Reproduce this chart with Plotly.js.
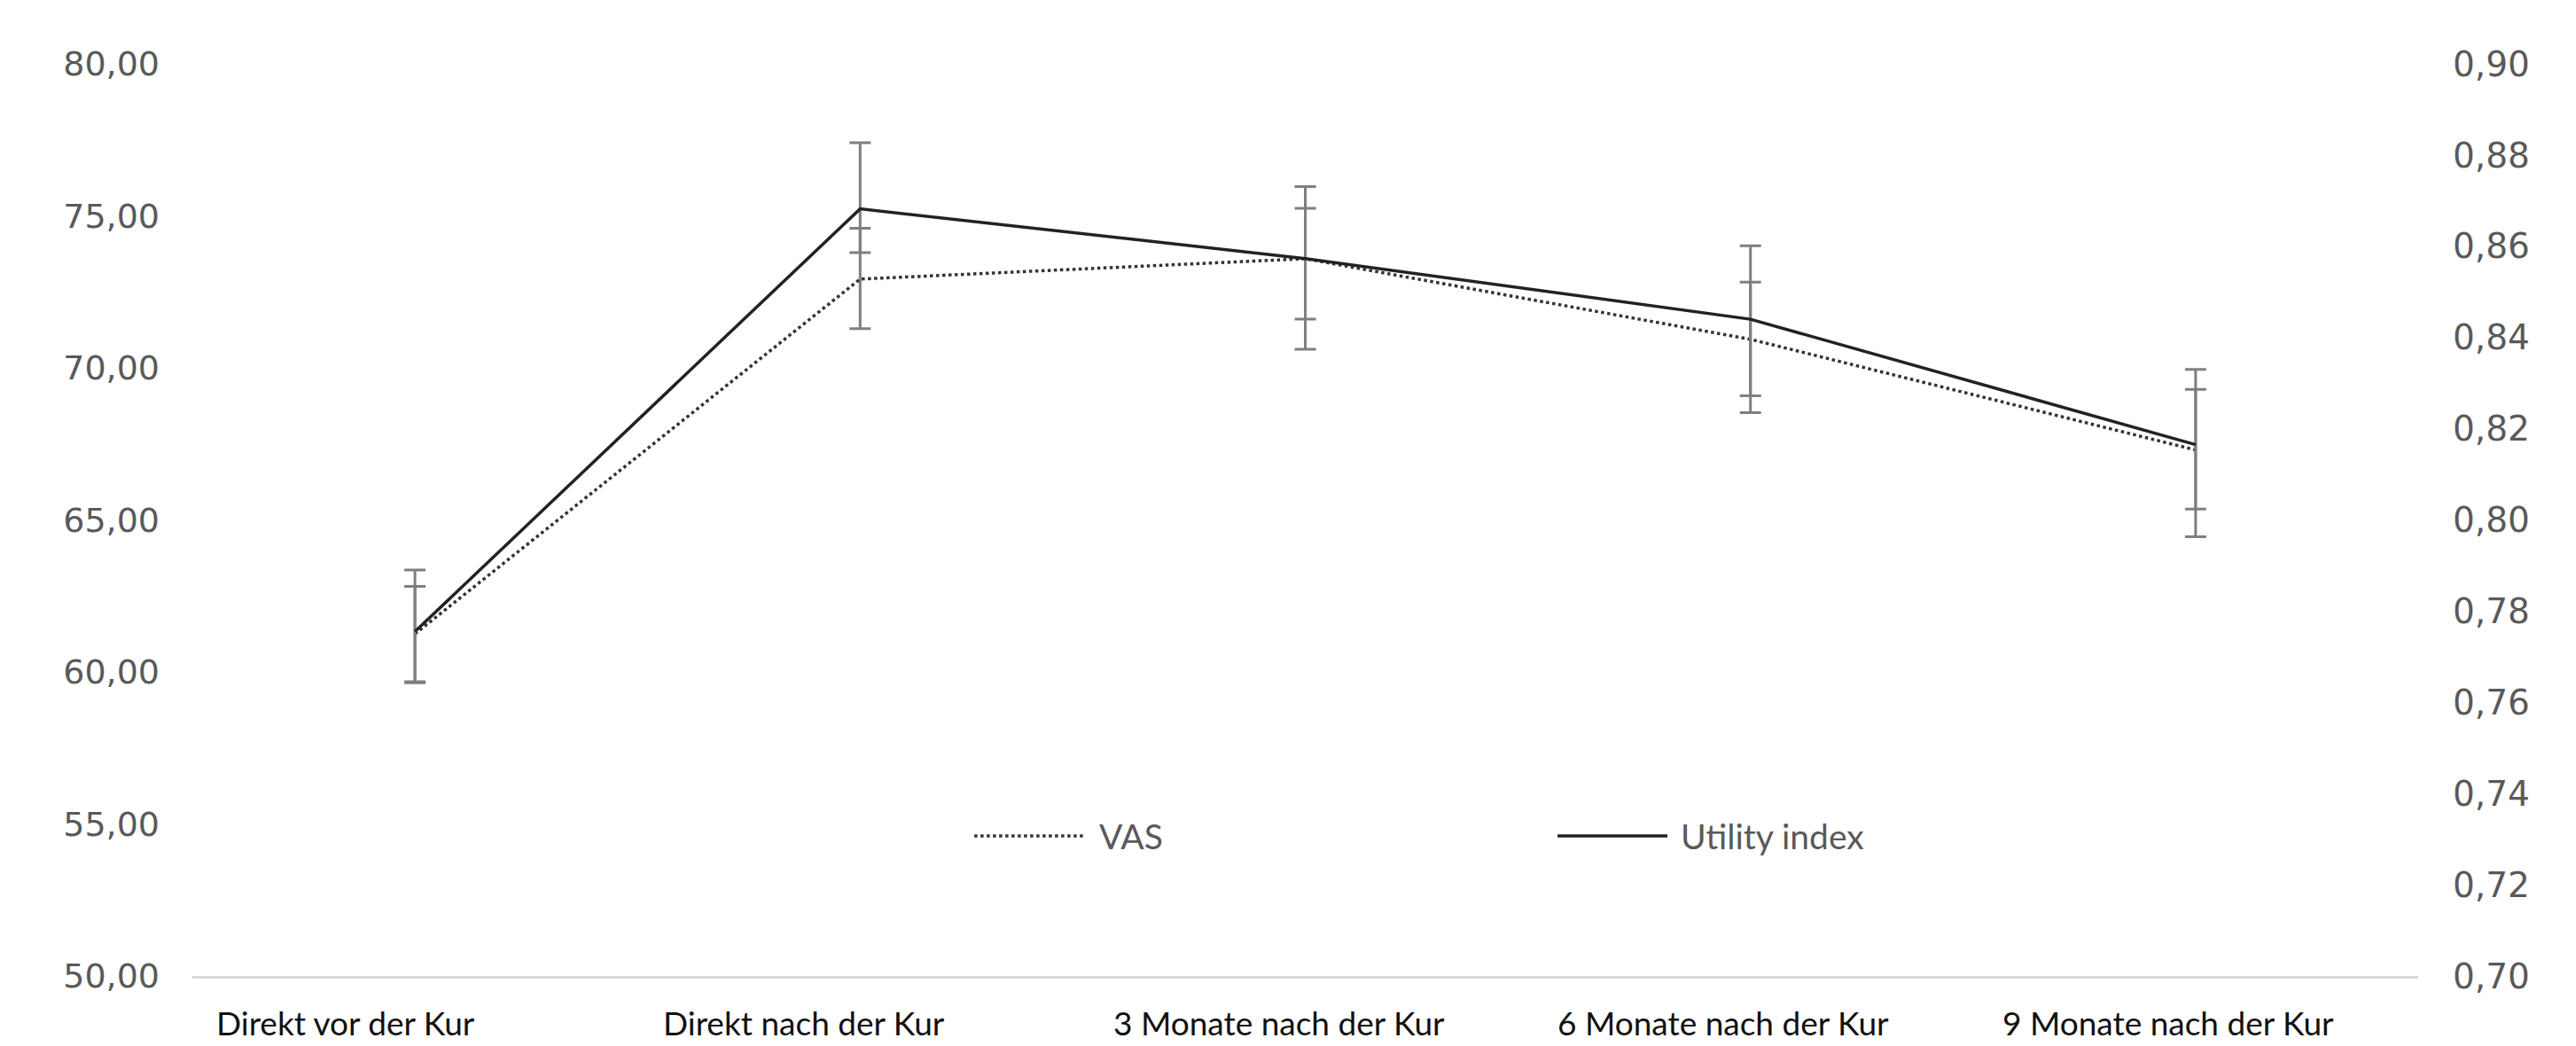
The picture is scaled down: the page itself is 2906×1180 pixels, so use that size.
<!DOCTYPE html>
<html>
<head>
<meta charset="utf-8">
<script src="https://cdn.plot.ly/plotly-3.0.1.min.js"></script>
<style>html,body{margin:0;padding:0;background:#fff;}#chart{width:2906px;height:1180px;}</style>
</head>
<body>
<div id="chart"></div>
<script>
const categories = ["Direkt vor der Kur", "Direkt nach der Kur", "3 Monate nach der Kur", "6 Monate nach der Kur", "9 Monate nach der Kur"];
const vasValues = [61.25, 72.92, 73.59, 70.94, 67.30];
const vasErrPlus = [1.56, 1.67, 1.66, 1.88, 1.99];
const vasErrMinus = [1.57, 1.63, 1.99, 1.86, 1.94];
const utilityValues = [0.7755, 0.8682, 0.8573, 0.8440, 0.8165];
const utilityErrPlus = [0.0135, 0.0145, 0.0158, 0.0161, 0.0165];
const utilityErrMinus = [0.0112, 0.0096, 0.0199, 0.0205, 0.0202];
const leftTicks = [50, 55, 60, 65, 70, 75, 80];
const rightTicks = [0.70, 0.72, 0.74, 0.76, 0.78, 0.80, 0.82, 0.84, 0.86, 0.88, 0.90];
const seriesNames = ['VAS', 'Utility index'];
const labelShifts = [-78, -63, -30, -31, -31];

const fmt = (v, d) => v.toFixed(d).replace('.', ',');

const traces = [
  {
    x: categories, y: vasValues, name: seriesNames[0], type: 'scatter', mode: 'lines', yaxis: 'y',
    line: {color: '#333333', width: 3.5, dash: 'dot'},
    error_y: {type: 'data', symmetric: false, array: vasErrPlus, arrayminus: vasErrMinus, color: '#7f7f7f', thickness: 3, width: 12},
    showlegend: false
  },
  {
    x: categories, y: utilityValues, name: seriesNames[1], type: 'scatter', mode: 'lines', yaxis: 'y2',
    line: {color: '#222222', width: 3.5},
    error_y: {type: 'data', symmetric: false, array: utilityErrPlus, arrayminus: utilityErrMinus, color: '#7f7f7f', thickness: 3, width: 12},
    showlegend: false
  }
];

const annotations = categories.map((c, i) => ({
  x: c, xref: 'x', y: 0, yref: 'paper', yshift: -52, xshift: labelShifts[i],
  text: c, showarrow: false, xanchor: 'center', yanchor: 'middle',
  font: {family: 'Lato, sans-serif', size: 37, color: '#111111'}
}));

// custom legend (long line samples as in the reference)
const legendY = 0.1535;
const legendItems = [
  {x0: 0.3513, x1: 0.4006, tx: 0.4066, dash: 'dot', color: '#333333'},
  {x0: 0.6133, x1: 0.6627, tx: 0.6679, dash: 'solid', color: '#222222'}
];
const shapes = legendItems.map(it => ({
  type: 'line', xref: 'paper', yref: 'paper', x0: it.x0, x1: it.x1, y0: legendY, y1: legendY,
  line: {color: it.color, width: 3.5, dash: it.dash}
}));
legendItems.forEach((it, i) => annotations.push({
  x: it.tx, xref: 'paper', y: legendY, yref: 'paper', text: seriesNames[i], showarrow: false,
  xanchor: 'left', yanchor: 'middle',
  font: {family: 'Lato, sans-serif', size: 39, color: '#595959'}
}));

const layout = {
  width: 2906, height: 1180,
  margin: {l: 217, r: 178, t: 72, b: 79},
  paper_bgcolor: '#ffffff', plot_bgcolor: '#ffffff',
  showlegend: false,
  xaxis: {
    type: 'category', range: [-0.5, 4.5], showticklabels: false, ticks: '',
    showgrid: false, zeroline: false, showline: true, linecolor: '#d9d9d9', linewidth: 3
  },
  yaxis: {
    range: [50, 80], tickvals: leftTicks, ticktext: leftTicks.map(v => fmt(v, 2)),
    showgrid: false, zeroline: false, showline: false, ticks: '', ticklabelstandoff: 36,
    tickfont: {family: 'DejaVu Sans, sans-serif', size: 38, color: '#595959'}
  },
  yaxis2: {
    range: [0.70, 0.90], overlaying: 'y', side: 'right',
    tickvals: rightTicks, ticktext: rightTicks.map(v => fmt(v, 2)),
    showgrid: false, zeroline: false, showline: false, ticks: '', ticklabelstandoff: 38,
    tickfont: {family: 'DejaVu Sans, sans-serif', size: 39, color: '#595959'}
  },
  shapes: shapes,
  annotations: annotations
};

Plotly.newPlot('chart', traces, layout, {displayModeBar: false, staticPlot: true});
</script>
</body>
</html>
